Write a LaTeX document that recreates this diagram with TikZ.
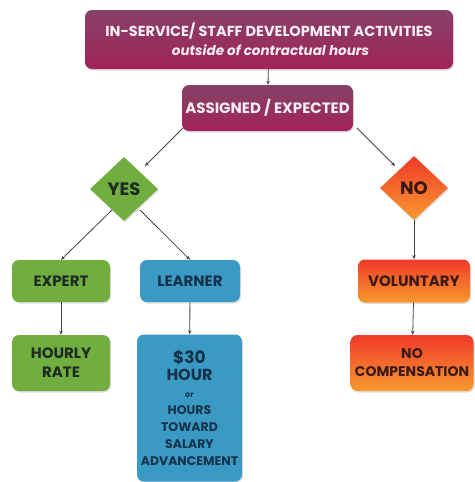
\documentclass[tikz,border=0pt]{standalone}
\usepackage{fontspec}
\setmainfont{Poppins}
\usetikzlibrary{shapes.geometric,arrows.meta,shadows}
\definecolor{maroonA}{HTML}{864267}
\definecolor{maroonB}{HTML}{A12259}
\definecolor{greenA}{HTML}{6FAE3F}
\definecolor{blueA}{HTML}{3B9AC4}
\definecolor{redA}{HTML}{F03A2A}
\definecolor{orangeA}{HTML}{F89A2E}
\definecolor{txtdark}{HTML}{1E2A22}
\definecolor{txtred}{HTML}{3A1A14}
\definecolor{txtblue}{HTML}{14324A}
\definecolor{txtwhite}{HTML}{F6EEF2}
\definecolor{linec}{HTML}{444444}
\newcommand{\fs}[2]{\fontsize{#1}{#2}\selectfont}
\tikzset{
  box/.style={rounded corners=7pt, draw=none, align=center, font=\bfseries\fs{15}{17}, inner sep=0pt, drop shadow={shadow xshift=1pt,shadow yshift=-1.5pt,opacity=0.25}},
  maroonbox/.style={box, top color=maroonA, bottom color=maroonB, text=txtwhite},
  greenbox/.style={box, fill=greenA, text=txtdark},
  bluebox/.style={box, fill=blueA, text=txtblue},
  redbox/.style={box, top color=redA, bottom color=orangeA, text=txtred},
  dia/.style={diamond, draw=none, inner sep=0pt, minimum width=68pt, minimum height=64pt, font=\bfseries\fs{18}{20}, drop shadow={shadow xshift=1pt,shadow yshift=-1.5pt,opacity=0.25}},
  conn/.style={draw=linec, line width=0.8pt, -{Stealth[length=4pt,width=3.5pt]}},
}
\begin{document}
\begin{tikzpicture}[x=1pt,y=-1pt]
\useasboundingbox[fill=white] (0,0) rectangle (474,482);
\node[maroonbox, minimum width=368pt, minimum height=59pt, font=\bfseries\fs{14.5}{19}] (top) at (269,39.5) {IN-SERVICE/ STAFF DEVELOPMENT ACTIVITIES\\{\itshape\fs{13.5}{19} outside of contractual hours}};
\node[maroonbox, minimum width=171pt, minimum height=46pt, font=\bfseries\fs{15}{17}] (asg) at (267.5,108) {ASSIGNED / EXPECTED};
\node[dia, fill=greenA, text=txtdark] (yes) at (124,189) {YES};
\node[dia, top color=redA, bottom color=orangeA, text=txtred] (no) at (414,188) {NO};
\node[greenbox, minimum width=98pt, minimum height=42pt] (exp) at (61,281) {EXPERT};
\node[bluebox, minimum width=100pt, minimum height=42pt] (lrn) at (190,281) {LEARNER};
\node[redbox, minimum width=112pt, minimum height=43pt] (vol) at (414,281) {VOLUNTARY};
\node[greenbox, minimum width=98pt, minimum height=56pt, font=\bfseries\fs{15}{19}] (hr) at (61,363) {HOURLY\\RATE};
\node[bluebox, minimum width=105pt, minimum height=147pt, font=\bfseries\fs{12.5}{17}] (pay) at (189.5,408) {{\fs{17}{21}\$30}\\{\fs{16}{20}HOUR}\\{\fs{8}{12}or}\\HOURS\\TOWARD\\SALARY\\ADVANCEMENT};
\node[redbox, minimum width=123pt, minimum height=56pt, font=\bfseries\fs{14}{18}] (nc) at (412,363) {NO\\COMPENSATION};
\coordinate (a1) at (183,128);
\coordinate (a2) at (357,128);
\coordinate (y1) at (145,166);
\coordinate (n1) at (395,166);
\coordinate (y2) at (112,210);
\coordinate (y3) at (140,210);
\draw[conn] (top) -- (asg);
\draw[conn] (a1) -- (y1);
\draw[conn] (a2) -- (n1);
\draw[conn] (y2) -- (exp.north);
\draw[conn] (y3) -- (lrn.north);
\draw[conn] (no) -- (vol);
\draw[conn] (exp) -- (hr);
\draw[conn] (lrn) -- (pay);
\draw[conn] (vol) -- (nc);
\end{tikzpicture}
\end{document}
